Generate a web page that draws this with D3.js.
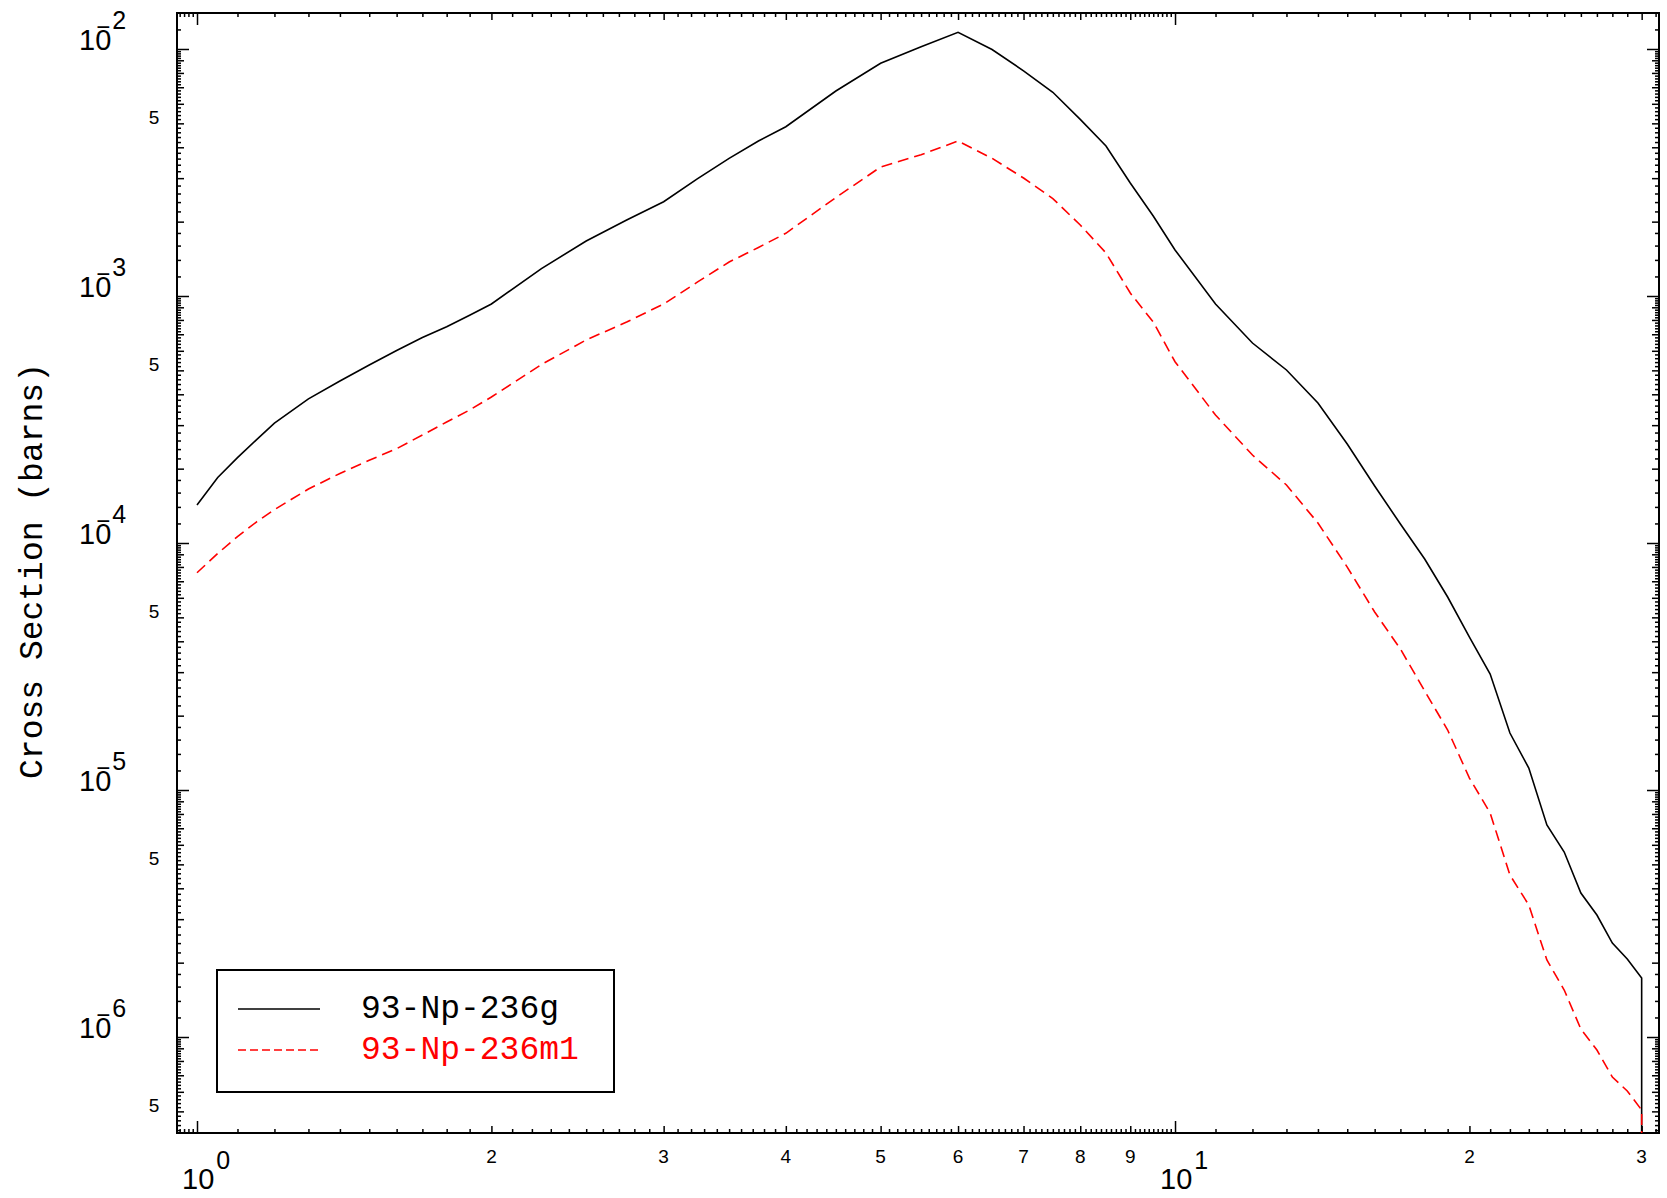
<!DOCTYPE html>
<html>
<head>
<meta charset="utf-8">
<script src="https://cdn.jsdelivr.net/npm/d3@7/dist/d3.min.js"></script>
<style>
  body { margin: 0; background: #fff; }
  text { fill: #000; }
</style>
</head>
<body>
<svg id="chart" width="1667" height="1198"></svg>
<script>
// Incident energy (MeV), shared by both series
const energy = [1.0, 1.05, 1.1, 1.15, 1.2, 1.3, 1.4, 1.5, 1.6, 1.7, 1.8, 1.9, 2.0,
  2.25, 2.5, 2.75, 3.0, 3.25, 3.5, 3.75, 4.0, 4.5, 5.0, 5.5, 6.0, 6.5, 7.0, 7.5,
  8.0, 8.5, 9.0, 9.5, 10, 11, 12, 13, 14, 15, 16, 17, 18, 19, 20, 21, 22, 23, 24,
  25, 26, 27, 28, 29, 30, 30];

// Cross sections (barns); last entry is the drop to zero past 30 MeV
const groundXs = [1.425e-4, 1.842e-4, 2.216e-4, 2.617e-4, 3.059e-4, 3.835e-4, 4.527e-4,
  5.256e-4, 6.017e-4, 6.786e-4, 7.509e-4, 8.363e-4, 9.281e-4,
  1.291e-3, 1.670e-3, 2.031e-3, 2.408e-3, 2.985e-3, 3.609e-3, 4.240e-3, 4.846e-3,
  6.761e-3, 8.753e-3, 1.0216e-2, 1.1685e-2, 9.954e-3, 8.160e-3, 6.679e-3,
  5.190e-3, 4.050e-3, 2.867e-3, 2.108e-3, 1.536e-3, 9.281e-4, 6.452e-4, 5.017e-4,
  3.688e-4, 2.517e-4, 1.701e-4, 1.194e-4, 8.614e-5, 6.044e-5, 4.163e-5, 2.948e-5,
  1.701e-5, 1.227e-5, 7.216e-6, 5.610e-6, 3.828e-6, 3.119e-6, 2.402e-6, 2.069e-6,
  1.733e-6, 1e-8];

const meta1Xs = [7.58e-5, 9.07e-5, 1.062e-4, 1.216e-4, 1.365e-4, 1.654e-4, 1.913e-4,
  2.162e-4, 2.409e-4, 2.736e-4, 3.090e-4, 3.455e-4, 3.900e-4,
  5.280e-4, 6.637e-4, 7.846e-4, 9.281e-4, 1.140e-3, 1.373e-3, 1.572e-3, 1.794e-3,
  2.504e-3, 3.329e-3, 3.732e-3, 4.240e-3, 3.609e-3, 3.004e-3, 2.480e-3,
  1.938e-3, 1.493e-3, 1.028e-3, 7.846e-4, 5.420e-4, 3.297e-4, 2.271e-4, 1.717e-4,
  1.205e-4, 7.99e-5, 5.255e-5, 3.723e-5, 2.517e-5, 1.749e-5, 1.118e-5, 8.07e-6,
  4.527e-6, 3.423e-6, 2.050e-6, 1.550e-6, 1.077e-6, 8.86e-7, 6.887e-7, 6.045e-7,
  5.062e-7, 1e-8];

const seriesNames = ['93-Np-236g', '93-Np-236m1'];
const seriesColors = ['#000000', '#ff0000'];

// tick labels
const xMajorTicks = [1, 10];
const xMajorExps = ['0', '1'];
const xDigitTicks = [2, 3, 4, 5, 6, 7, 8, 9, 20, 30];
const xDigitLabels = ['2', '3', '4', '5', '6', '7', '8', '9', '2', '3'];
const yMajorTicks = [1e-2, 1e-3, 1e-4, 1e-5, 1e-6];
const yMajorExps = ['2', '3', '4', '5', '6'];
const yFiveTicks = [5e-3, 5e-4, 5e-5, 5e-6, 5e-7];

const svg = d3.select('#chart');

const pLeft = 177, pRight = 1659, pTop = 13, pBottom = 1133;

const xScale = d3.scaleLog().domain([0.954, 31.25]).range([pLeft, pRight]);
const yScale = d3.scaleLog().domain([0.013987, 4.087e-7]).range([pTop, pBottom]);

// tick value lists
let xMinor = [], xMedium = [], yMinor = [], yMedium = [];
for (let k = 96; k <= 99; k++) xMinor.push(k / 100);
for (let d of [1, 10]) {
  for (let k = 11; k < 100; k++) {
    const v = d * k / 10;
    if (v > 31.25) break;
    if (k % 10 === 0) xMedium.push(v); else xMinor.push(v);
  }
}
for (let e = -7; e <= -2; e++) {
  for (let k = 10; k < 100; k += 2) {
    const v = (k / 10) * Math.pow(10, e);
    if (v < 4.087e-7 || v > 0.013987 || k === 10) continue;
    if (k % 10 === 0) yMedium.push(v); else yMinor.push(v);
  }
}

const font = 'Liberation Sans, Arial, sans-serif';
const mono = 'Liberation Mono, Courier New, monospace';

function drawX(values, len) {
  svg.append('g').attr('transform', `translate(0,${pBottom})`)
    .call(d3.axisBottom(xScale).tickValues(values).tickSizeInner(-len).tickSizeOuter(0).tickFormat(''))
    .call(g => g.select('.domain').remove())
    .selectAll('line').attr('stroke', '#000').attr('stroke-width', 1.5);
  svg.append('g').attr('transform', `translate(0,${pTop})`)
    .call(d3.axisTop(xScale).tickValues(values).tickSizeInner(-len).tickSizeOuter(0).tickFormat(''))
    .call(g => g.select('.domain').remove())
    .selectAll('line').attr('stroke', '#000').attr('stroke-width', 1.5);
}
function drawY(values, len) {
  svg.append('g').attr('transform', `translate(${pLeft},0)`)
    .call(d3.axisLeft(yScale).tickValues(values).tickSizeInner(-len).tickSizeOuter(0).tickFormat(''))
    .call(g => g.select('.domain').remove())
    .selectAll('line').attr('stroke', '#000').attr('stroke-width', 1.5);
  svg.append('g').attr('transform', `translate(${pRight},0)`)
    .call(d3.axisRight(yScale).tickValues(values).tickSizeInner(-len).tickSizeOuter(0).tickFormat(''))
    .call(g => g.select('.domain').remove())
    .selectAll('line').attr('stroke', '#000').attr('stroke-width', 1.5);
}

drawX(xMinor, 4);
drawX(xMedium, 7);
drawX(xMajorTicks, 12);
drawY(yMinor, 4);
drawY(yMedium, 7);
drawY(yMajorTicks, 12);

// frame
svg.append('rect')
  .attr('x', pLeft).attr('y', pTop)
  .attr('width', pRight - pLeft).attr('height', pBottom - pTop)
  .attr('fill', 'none').attr('stroke', '#000').attr('stroke-width', 2);

// clip
svg.append('clipPath').attr('id', 'plot-clip')
  .append('rect').attr('x', pLeft).attr('y', pTop)
  .attr('width', pRight - pLeft).attr('height', pBottom - pTop);

const line = d3.line()
  .x(d => xScale(d[0]))
  .y(d => yScale(d[1]));

const series = [groundXs, meta1Xs].map((vals, i) => ({
  name: seriesNames[i],
  color: seriesColors[i],
  dash: i === 0 ? null : '11,6',
  points: energy.map((e, j) => [e, vals[j]])
}));

svg.append('g').attr('clip-path', 'url(#plot-clip)')
  .selectAll('path')
  .data(series)
  .enter()
  .append('path')
  .attr('fill', 'none')
  .attr('stroke', d => d.color)
  .attr('stroke-width', 1.6)
  .attr('stroke-dasharray', d => d.dash)
  .attr('d', d => line(d.points));

// y tick labels: "10" with the minus drawn over the 0 and the exponent raised
yMajorTicks.forEach((v, i) => {
  const y = yScale(v);
  const t = svg.append('text').attr('x', 79).attr('y', y + 1)
    .attr('font-family', font).attr('font-size', 29);
  t.append('tspan').text('10');
  t.append('tspan').attr('dx', -15).attr('dy', -15).attr('font-size', 24).text('\u2212');
  t.append('tspan').attr('dx', 2).attr('dy', -6).attr('font-size', 25).text(yMajorExps[i]);
});
yFiveTicks.forEach(v => {
  svg.append('text').attr('x', 154).attr('y', yScale(v) + 1)
    .attr('text-anchor', 'middle').attr('font-family', font).attr('font-size', 19).text('5');
});

// x tick labels
xMajorTicks.forEach((v, i) => {
  const x = xScale(v);
  const t = svg.append('text').attr('x', x - 15).attr('y', 1189)
    .attr('font-family', font).attr('font-size', 29);
  t.append('tspan').text('10');
  t.append('tspan').attr('dx', 2).attr('dy', -20).attr('font-size', 25).text(xMajorExps[i]);
});
xDigitTicks.forEach((v, i) => {
  svg.append('text').attr('x', xScale(v)).attr('y', 1163)
    .attr('text-anchor', 'middle').attr('font-family', font).attr('font-size', 19).text(xDigitLabels[i]);
});

// y axis title
svg.append('text')
  .attr('transform', 'translate(42,571) rotate(-90)')
  .attr('text-anchor', 'middle')
  .attr('font-family', mono).attr('font-size', 33)
  .text('Cross Section (barns)');

// legend
const legend = svg.append('g');
legend.append('rect')
  .attr('x', 217).attr('y', 970).attr('width', 397).attr('height', 122)
  .attr('fill', '#fff').attr('stroke', '#000').attr('stroke-width', 2);
series.forEach((s, i) => {
  const ly = 1009 + i * 41;
  legend.append('line')
    .attr('x1', 238).attr('x2', 320).attr('y1', ly).attr('y2', ly)
    .attr('stroke', s.color).attr('stroke-width', 1.6)
    .attr('stroke-dasharray', s.dash ? '8,4' : null);
  legend.append('text')
    .attr('x', 361).attr('y', ly + 9)
    .attr('font-family', mono).attr('font-size', 33)
    .style('fill', s.color)
    .text(s.name);
});
</script>
</body>
</html>
